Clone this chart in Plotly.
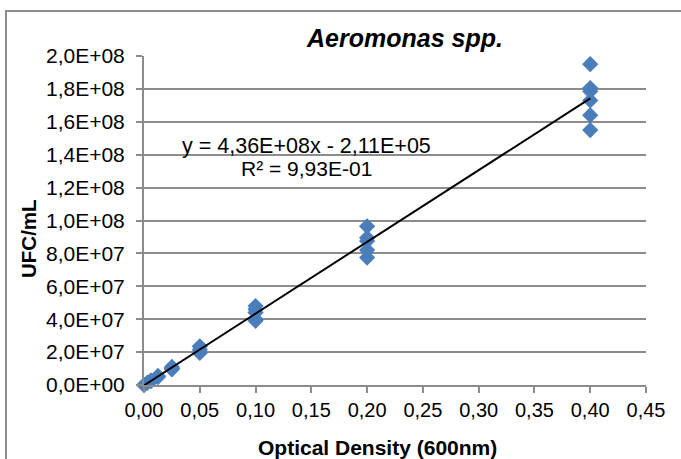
import plotly.graph_objects as go

# ---- data ----
od_values = [0.4, 0.4, 0.4, 0.4, 0.4, 0.4,
             0.2, 0.2, 0.2, 0.2, 0.2,
             0.1, 0.1, 0.1, 0.1, 0.1,
             0.05, 0.05, 0.05,
             0.025, 0.025, 0.025,
             0.0125, 0.0125,
             0.00625, 0.00625,
             0.003125, 0.0]
ufc_values = [1.95e8, 1.805e8, 1.785e8, 1.73e8, 1.64e8, 1.55e8,
              9.65e7, 8.95e7, 8.75e7, 8.2e7, 7.75e7,
              4.8e7, 4.6e7, 4.4e7, 4.0e7, 3.9e7,
              2.35e7, 2.15e7, 1.95e7,
              1.1e7, 1.0e7, 0.95e7,
              5.5e6, 4.8e6,
              2.8e6, 2.3e6,
              1.4e6, 0.0]
slope = 4.36e8
intercept = -2.11e5
trend_x = [0.0, 0.4]
trend_y = [slope * v + intercept for v in trend_x]

x_tickvals = [0.0, 0.05, 0.10, 0.15, 0.20, 0.25, 0.30, 0.35, 0.40, 0.45]
x_ticktext = ["0,00", "0,05", "0,10", "0,15", "0,20", "0,25", "0,30", "0,35", "0,40", "0,45"]
y_tickvals = [0, 2e7, 4e7, 6e7, 8e7, 1e8, 1.2e8, 1.4e8, 1.6e8, 1.8e8, 2e8]
y_ticktext = ["0,0E+00", "2,0E+07", "4,0E+07", "6,0E+07", "8,0E+07", "1,0E+08",
              "1,2E+08", "1,4E+08", "1,6E+08", "1,8E+08", "2,0E+08"]

title_text = "<b><i>Aeromonas spp.</i></b>"
x_title = "<b>Optical Density (600nm)</b>"
y_title = "<b>UFC/mL</b>"
eq_text = "y = 4,36E+08x - 2,11E+05"
r2_text = "R² = 9,93E-01"

FONT = "Liberation Sans, Arial, sans-serif"
W, H = 681, 459
L, R, T, B = 144, 35, 56, 74
pw, ph = W - L - R, H - T - B

def px(xp):
    return (xp - L) / pw

def py(yp):
    return (H - B - yp) / ph

fig = go.Figure()
fig.add_trace(go.Scatter(
    x=od_values, y=ufc_values, mode="markers",
    marker=dict(symbol="diamond", size=12.5, color="#4A7EBB", line=dict(width=0)),
    cliponaxis=False, showlegend=False, hoverinfo="x+y"))
fig.add_trace(go.Scatter(
    x=trend_x, y=trend_y, mode="lines",
    line=dict(color="black", width=2), showlegend=False, cliponaxis=False))

fig.update_layout(
    width=W, height=H,
    margin=dict(l=L, r=R, t=T, b=B, pad=0),
    paper_bgcolor="white", plot_bgcolor="white",
    font=dict(family=FONT, size=20, color="black"),
    xaxis=dict(range=[0, 0.45], tickvals=x_tickvals, ticktext=x_ticktext,
               showgrid=False, zeroline=False, showline=True, linecolor="#8c8c8c",
               linewidth=2, ticks="outside", ticklen=6, tickwidth=2, tickcolor="#8c8c8c",
               tickfont=dict(size=20)),
    yaxis=dict(range=[0, 2e8], tickvals=y_tickvals, ticktext=y_ticktext,
               showgrid=True, gridcolor="#8c8c8c", gridwidth=2, zeroline=False,
               showline=True, linecolor="#8c8c8c", linewidth=2,
               ticks="outside", ticklen=6, tickwidth=2, tickcolor="#8c8c8c",
               ticklabelstandoff=7, tickfont=dict(size=21)),
    shapes=[dict(type="rect", xref="paper", yref="paper",
                 x0=px(6), x1=px(700), y0=py(480), y1=py(11),
                 line=dict(color="#8c8c8c", width=2), layer="below")],
    annotations=[
        dict(text=title_text, xref="paper", yref="paper", x=px(404), y=py(38),
             showarrow=False, xanchor="center", yanchor="middle",
             font=dict(size=25, family=FONT)),
        dict(text=x_title, xref="paper", yref="paper", x=px(377), y=py(447),
             showarrow=False, xanchor="center", yanchor="middle",
             font=dict(size=21, family=FONT)),
        dict(text=y_title, xref="paper", yref="paper", x=px(28), y=py(239),
             showarrow=False, xanchor="center", yanchor="middle", textangle=-90,
             font=dict(size=20.5, family=FONT)),
        dict(text=eq_text, xref="paper", yref="paper", x=px(306), y=py(146),
             showarrow=False, xanchor="center", yanchor="middle",
             font=dict(size=21.5, family=FONT)),
        dict(text=r2_text, xref="paper", yref="paper", x=px(306), y=py(168),
             showarrow=False, xanchor="center", yanchor="middle",
             font=dict(size=21, family=FONT)),
    ],
)

fig.write_html("out.html")
